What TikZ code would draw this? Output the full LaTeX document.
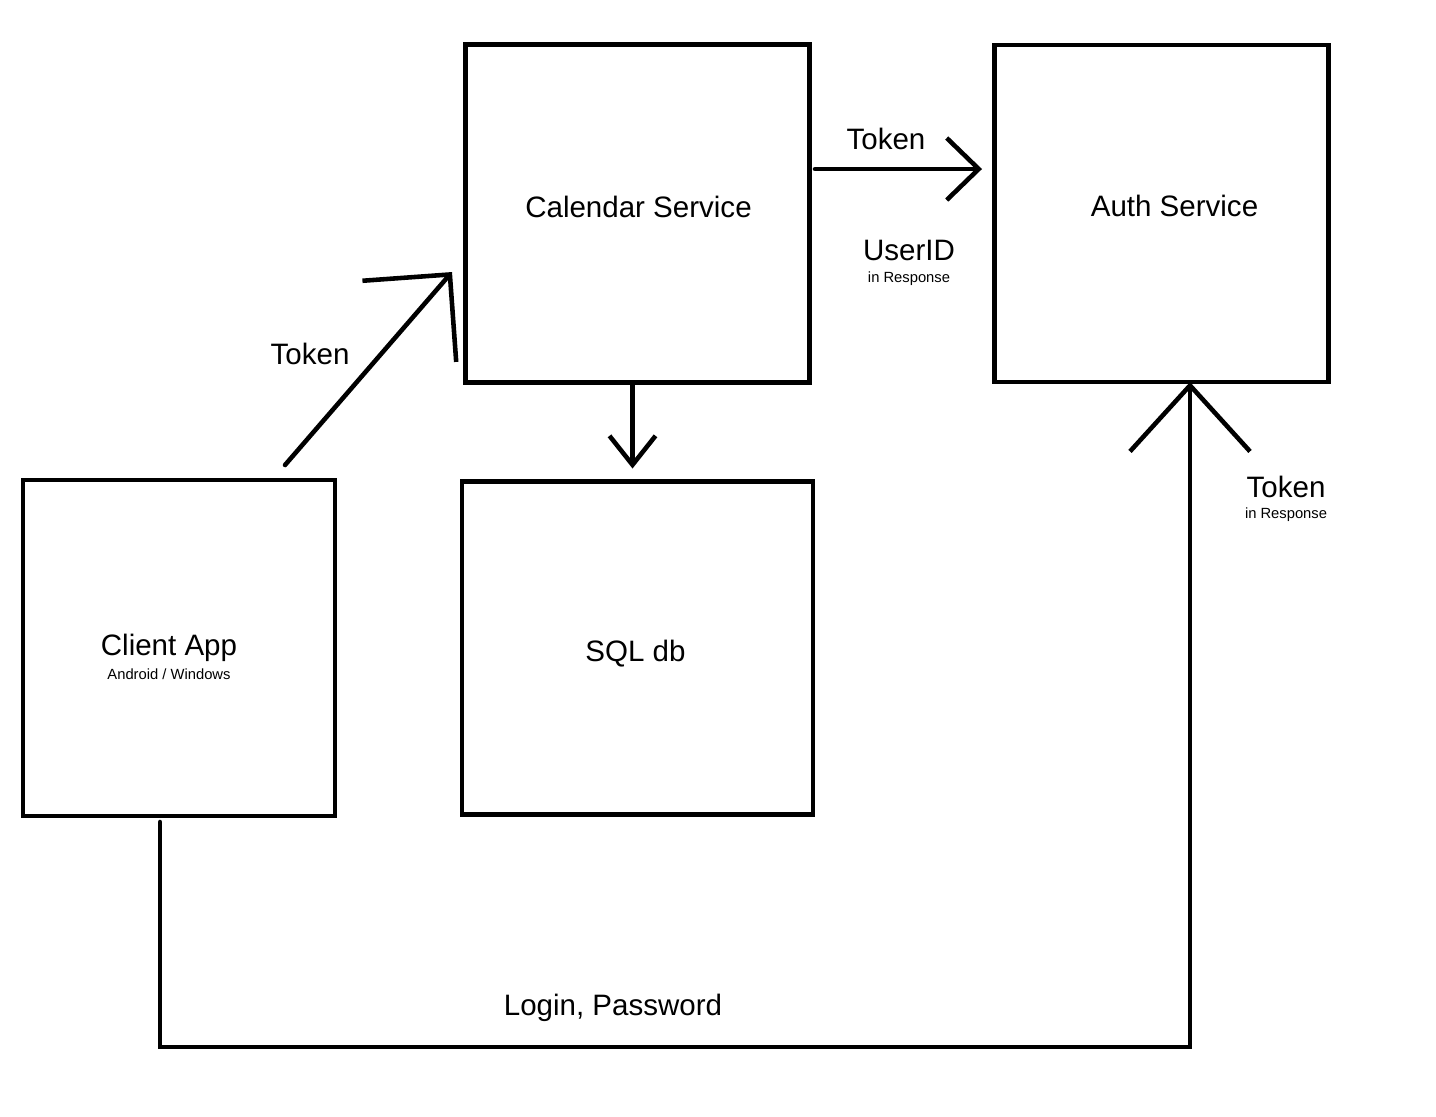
\documentclass[tikz,border=0pt]{standalone}
\usepackage{fontspec}
\setmainfont{Liberation Sans}
\usetikzlibrary{arrows.meta, positioning}
\newcommand{\bigtext}{\fontsize{8.4}{10}\selectfont}
\newcommand{\smalltext}{\fontsize{4.2}{5}\selectfont}

\begin{document}
\begin{tikzpicture}[
    box/.style={draw, line width=1.3pt, inner sep=0pt, outer sep=0pt},
    lbl/.style={align=center, font=\bigtext},
    arr/.style={line width=1.3pt, line cap=round, -{Straight Barb[length=0.32cm, width=0.62cm]}},
    bigarr/.style={line width=1.3pt, line cap=round, -{Straight Barb[length=0.62cm, width=1.24cm]}},
  ]
    \useasboundingbox (0,0) rectangle (14.36,-11.16);
    \node[box, minimum width=3.12cm, minimum height=3.36cm] (client) at (1.79,-6.48) {};
    \node[box, minimum width=3.51cm, minimum height=3.33cm, right=1.27cm of client] (sql) {};
    \node[box, minimum width=3.44cm, minimum height=3.38cm, above=0.99cm of sql] (cal) {};
    \node[box, minimum width=3.34cm, minimum height=3.37cm, right=1.85cm of cal] (auth) {};
    \node[lbl] (clientname) at ([xshift=-0.1cm, yshift=-0.09cm]client.center)
      {Client App\\[-3.2pt]{\smalltext Android / Windows}};
    \node[lbl] (sqlname) at ([xshift=-0.02cm, yshift=-0.06cm]sql.center) {SQL db};
    \node[lbl] (calname) at ([xshift=0.01cm, yshift=0.07cm]cal.center) {Calendar Service};
    \node[lbl] (authname) at ([xshift=0.13cm, yshift=0.08cm]auth.center) {Auth Service};
    \coordinate (low) at (6.13,-10.47);

    \draw[bigarr] ([xshift=-0.5cm, yshift=0.15cm]client.north east)
      -- node[lbl, left=5pt, pos=0.575] (tokcal) {Token} ([xshift=-0.135cm, yshift=-0.585cm]cal.west);
    \draw[arr] ([xshift=0.055cm, yshift=0.445cm]cal.east)
      -- node[lbl, above=1.4pt, pos=0.425] (tokauth) {Token} ([xshift=-0.125cm, yshift=0.445cm]auth.west);
    \node[lbl] (uid) at ([xshift=0.995cm, yshift=-0.49cm]cal.east)
      {UserID\\[-3.8pt]{\smalltext in Response}};
    \draw[arr, -{Straight Barb[length=0.29cm, width=0.46cm]}] ([xshift=-0.05cm]cal.south)
      -- ([xshift=-0.05cm, yshift=0.13cm]sql.north);
    \draw[bigarr, -{Straight Barb[length=0.66cm, width=1.2cm]}] ([xshift=-0.19cm, yshift=-0.06cm]client.south)
      |- (low) -| ([xshift=0.285cm]auth.south);
    \node[lbl, above=0.13cm of low] (login) {Login, Password};
    \node[lbl] (tokresp) at ([xshift=1.245cm, yshift=-1.17cm]auth.south)
      {Token\\[-4pt]{\smalltext in Response}};
  \end{tikzpicture}
\end{document}
